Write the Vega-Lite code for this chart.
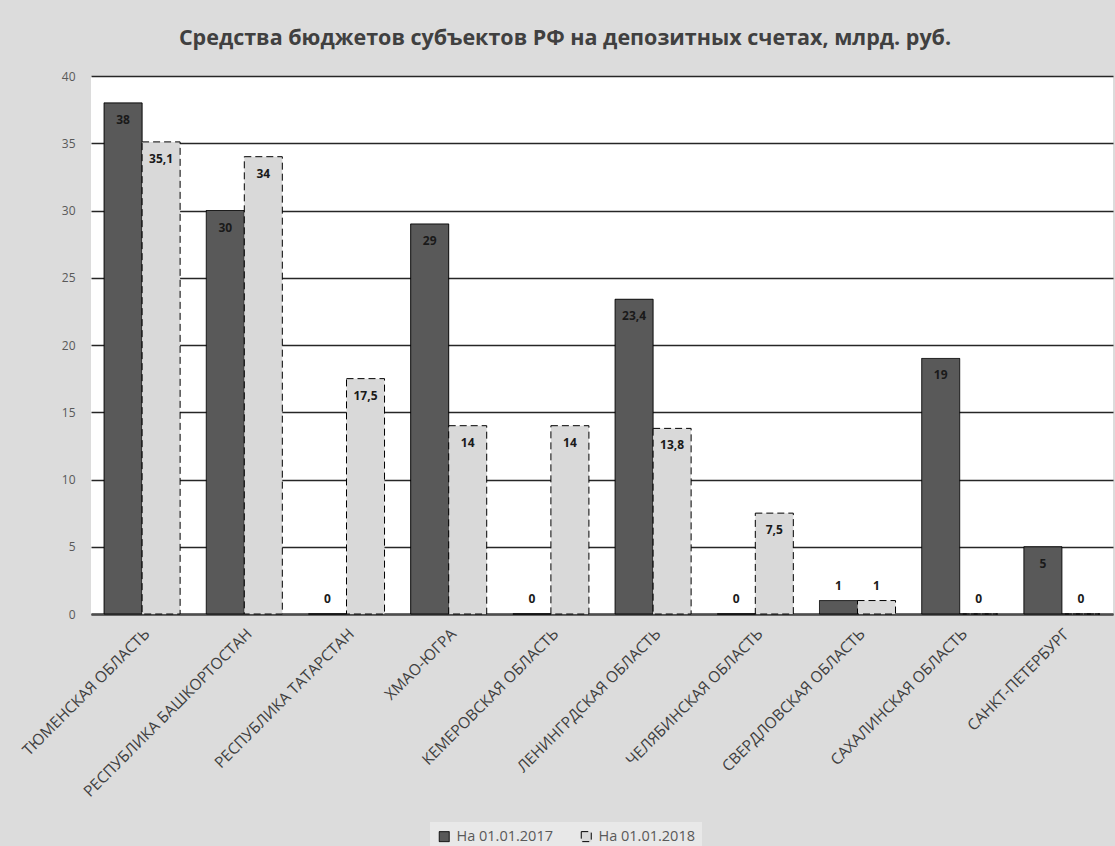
{
  "$schema": "https://vega.github.io/schema/vega-lite/v6.json",
  "width": 1022,
  "height": 538,
  "autosize": {"type": "none"},
  "padding": {"left": 91, "top": 76, "right": 2, "bottom": 232},
  "background": "#dcdcdc",
  "config": {
    "locale": {"number": {"decimal": ",", "thousands": " ", "grouping": [3], "currency": ["", " ₽"]}},
    "view": {"fill": "white", "stroke": null},
    "font": "Open Sans"
  },
  "title": {
    "text": "Средства бюджетов субъектов РФ на депозитных счетах, млрд. руб.",
    "font": "Open Sans",
    "fontSize": 21.5,
    "fontWeight": "bold",
    "color": "#404040",
    "anchor": "middle",
    "offset": 21,
    "dx": -37
  },
  "data": {
    "values": [
      {"region": "ТЮМЕНСКАЯ ОБЛАСТЬ", "series": "На 01.01.2017", "value": 38},
      {"region": "ТЮМЕНСКАЯ ОБЛАСТЬ", "series": "На 01.01.2018", "value": 35.1},
      {"region": "РЕСПУБЛИКА БАШКОРТОСТАН", "series": "На 01.01.2017", "value": 30},
      {"region": "РЕСПУБЛИКА БАШКОРТОСТАН", "series": "На 01.01.2018", "value": 34},
      {"region": "РЕСПУБЛИКА ТАТАРСТАН", "series": "На 01.01.2017", "value": 0},
      {"region": "РЕСПУБЛИКА ТАТАРСТАН", "series": "На 01.01.2018", "value": 17.5},
      {"region": "ХМАО-ЮГРА", "series": "На 01.01.2017", "value": 29},
      {"region": "ХМАО-ЮГРА", "series": "На 01.01.2018", "value": 14},
      {"region": "КЕМЕРОВСКАЯ ОБЛАСТЬ", "series": "На 01.01.2017", "value": 0},
      {"region": "КЕМЕРОВСКАЯ ОБЛАСТЬ", "series": "На 01.01.2018", "value": 14},
      {"region": "ЛЕНИНГРДСКАЯ ОБЛАСТЬ", "series": "На 01.01.2017", "value": 23.4},
      {"region": "ЛЕНИНГРДСКАЯ ОБЛАСТЬ", "series": "На 01.01.2018", "value": 13.8},
      {"region": "ЧЕЛЯБИНСКАЯ ОБЛАСТЬ", "series": "На 01.01.2017", "value": 0},
      {"region": "ЧЕЛЯБИНСКАЯ ОБЛАСТЬ", "series": "На 01.01.2018", "value": 7.5},
      {"region": "СВЕРДЛОВСКАЯ ОБЛАСТЬ", "series": "На 01.01.2017", "value": 1},
      {"region": "СВЕРДЛОВСКАЯ ОБЛАСТЬ", "series": "На 01.01.2018", "value": 1},
      {"region": "САХАЛИНСКАЯ ОБЛАСТЬ", "series": "На 01.01.2017", "value": 19},
      {"region": "САХАЛИНСКАЯ ОБЛАСТЬ", "series": "На 01.01.2018", "value": 0},
      {"region": "САНКТ-ПЕТЕРБУРГ", "series": "На 01.01.2017", "value": 5},
      {"region": "САНКТ-ПЕТЕРБУРГ", "series": "На 01.01.2018", "value": 0}
    ]
  },
  "encoding": {
    "x": {
      "field": "region", "type": "nominal", "sort": null,
      "scale": {"paddingInner": 0.256, "paddingOuter": 0.128},
      "axis": {
        "title": null, "labelAngle": -45, "ticks": false,
        "domainColor": "#4d4d4d", "domainWidth": 2.5,
        "labelFontSize": 15.5, "labelColor": "#404040", "labelPadding": 12, "labelLimit": 400
      }
    },
    "xOffset": {
      "field": "series", "type": "nominal", "sort": null,
      "scale": {"paddingInner": 0, "paddingOuter": 0}
    },
    "y": {
      "field": "value", "type": "quantitative",
      "scale": {"domain": [0, 40]},
      "axis": {
        "title": null, "values": [0, 5, 10, 15, 20, 25, 30, 35, 40],
        "domain": false, "ticks": false, "labelPadding": 16,
        "labelFontSize": 12, "labelColor": "#595959",
        "gridColor": "#262626", "gridWidth": 1.5
      }
    }
  },
  "layer": [
    {
      "mark": {"type": "bar", "stroke": "#000000", "strokeWidth": 1},
      "encoding": {
        "fill": {
          "field": "series", "type": "nominal", "sort": null,
          "scale": {"range": ["#595959", "#d9d9d9"]},
          "legend": {
            "title": null, "orient": "none", "legendX": 339, "legendY": 746,
            "direction": "horizontal", "symbolType": "square", "symbolSize": 100,
            "labelFontSize": 14.5, "labelColor": "#595959", "fillColor": "#e8e8e8",
            "padding": 7, "columnPadding": 26, "labelOffset": 5,
            "symbolStrokeColor": "#000000", "symbolStrokeWidth": 1
          }
        },
        "strokeDash": {
          "field": "series", "type": "nominal", "sort": null,
          "scale": {"range": [[1, 0], [7, 4]]}
        }
      }
    },
    {
      "transform": [{"filter": "datum.value >= 3"}],
      "mark": {"type": "text", "baseline": "middle", "dy": 17, "fontWeight": "bold", "fontSize": 12, "color": "#1a1a1a"},
      "encoding": {"text": {"field": "value", "type": "quantitative", "format": ".1~f"}}
    },
    {
      "transform": [{"filter": "datum.value < 3"}],
      "mark": {"type": "text", "baseline": "middle", "dy": -15, "fontWeight": "bold", "fontSize": 12, "color": "#1a1a1a"},
      "encoding": {"text": {"field": "value", "type": "quantitative", "format": ".1~f"}}
    }
  ]
}
